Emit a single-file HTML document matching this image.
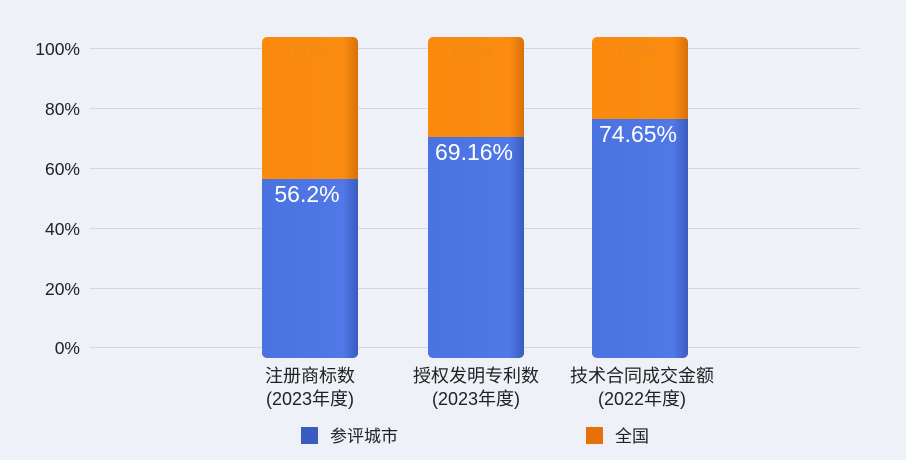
<!DOCTYPE html>
<html><head><meta charset="utf-8"><style>
body{margin:0;width:906px;height:460px;background:#eef1f7;font-family:"Liberation Sans","Noto Sans CJK SC",sans-serif;overflow:hidden}
</style></head><body>
<svg width="906" height="460" xmlns="http://www.w3.org/2000/svg" style="position:absolute;left:0;top:0">
<defs>
<linearGradient id="o" x1="0" x2="1"><stop offset="0" stop-color="#f98a0c"/><stop offset="0.85" stop-color="#fb8c10"/><stop offset="1" stop-color="#d9700a"/></linearGradient>
<linearGradient id="b" x1="0" x2="1"><stop offset="0" stop-color="#4a72e0"/><stop offset="0.85" stop-color="#5078e6"/><stop offset="1" stop-color="#3a5cc0"/></linearGradient>
</defs>
<g stroke="#d3d7df" stroke-width="1">
<line x1="90" x2="860" y1="48.5" y2="48.5"/><line x1="90" x2="860" y1="108.5" y2="108.5"/>
<line x1="90" x2="860" y1="168.5" y2="168.5"/><line x1="90" x2="860" y1="228.5" y2="228.5"/>
<line x1="90" x2="860" y1="288.5" y2="288.5"/><line x1="90" x2="860" y1="347.5" y2="347.5"/>
</g>
<g font-size="17.5" fill="#222" text-anchor="end">
<text x="80" y="55">100%</text><text x="80" y="115">80%</text><text x="80" y="175">60%</text>
<text x="80" y="235">40%</text><text x="80" y="295">20%</text><text x="80" y="354">0%</text>
</g>
<g>
<rect x="262" y="37" width="96" height="321" rx="5" fill="url(#o)"/>
<path d="M262 179 H358 V353 a5 5 0 0 1 -5 5 H267 a5 5 0 0 1 -5 -5 Z" fill="url(#b)"/>
<rect x="428" y="37" width="96" height="321" rx="5" fill="url(#o)"/>
<path d="M428 137 H524 V353 a5 5 0 0 1 -5 5 H433 a5 5 0 0 1 -5 -5 Z" fill="url(#b)"/>
<rect x="592" y="37" width="96" height="321" rx="5" fill="url(#o)"/>
<path d="M592 119 H688 V353 a5 5 0 0 1 -5 5 H597 a5 5 0 0 1 -5 -5 Z" fill="url(#b)"/>
</g>
<g font-size="17" fill="#e88a20" text-anchor="middle" opacity="0.5">
<text x="306" y="56">100%</text><text x="472" y="56">100%</text><text x="636" y="56">100%</text>
</g>
<g font-size="23" fill="#fff" text-anchor="middle">
<text x="307" y="202">56.2%</text><text x="474" y="160">69.16%</text><text x="638" y="142">74.65%</text>
</g>
<g font-size="18" fill="#222" text-anchor="middle">
<text x="310" y="382">注册商标数</text><text x="310" y="405">(2023年度)</text>
<text x="476" y="382">授权发明专利数</text><text x="476" y="405">(2023年度)</text>
<text x="642" y="382">技术合同成交金额</text><text x="642" y="405">(2022年度)</text>
</g>
<rect x="301" y="427" width="17" height="17" fill="#3a5cc0"/>
<text x="330" y="442" font-size="17" fill="#222">参评城市</text>
<rect x="586" y="427" width="17" height="17" fill="#e8700a"/>
<text x="615" y="442" font-size="17" fill="#222">全国</text>
</svg>
</body></html>
